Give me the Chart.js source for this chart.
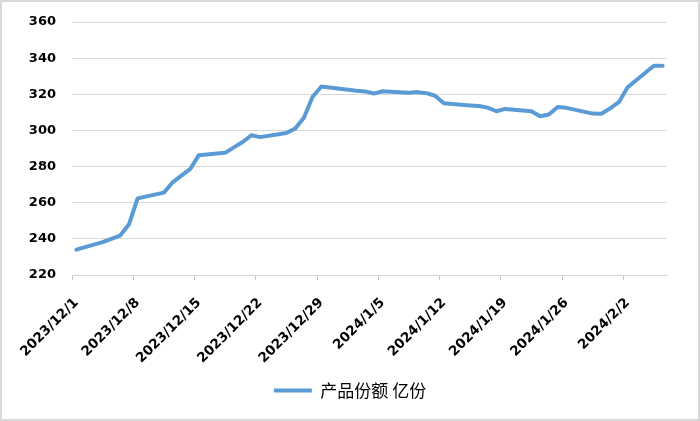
<!DOCTYPE html>
<html>
<head>
<meta charset="utf-8">
<script src="https://cdn.jsdelivr.net/npm/chart.js@4.4.1/dist/chart.umd.min.js"></script>
<style>
  html, body { margin: 0; padding: 0; background: #fff; }
  #wrap { width: 700px; height: 421px; box-sizing: border-box; border: 2px solid #d9d9d9; position: relative; background: #fff; }
  #wrap canvas { display: block; }
</style>
</head>
<body>
<div id="wrap"><canvas id="c"></canvas></div>
<script>
// Calendar days on the date axis (2023/12/1 .. 2024/2/6)
const dates = [
  "2023/12/1","2023/12/2","2023/12/3","2023/12/4","2023/12/5","2023/12/6","2023/12/7",
  "2023/12/8","2023/12/9","2023/12/10","2023/12/11","2023/12/12","2023/12/13","2023/12/14",
  "2023/12/15","2023/12/16","2023/12/17","2023/12/18","2023/12/19","2023/12/20","2023/12/21",
  "2023/12/22","2023/12/23","2023/12/24","2023/12/25","2023/12/26","2023/12/27","2023/12/28",
  "2023/12/29","2023/12/30","2023/12/31","2024/1/1","2024/1/2","2024/1/3","2024/1/4",
  "2024/1/5","2024/1/6","2024/1/7","2024/1/8","2024/1/9","2024/1/10","2024/1/11",
  "2024/1/12","2024/1/13","2024/1/14","2024/1/15","2024/1/16","2024/1/17","2024/1/18",
  "2024/1/19","2024/1/20","2024/1/21","2024/1/22","2024/1/23","2024/1/24","2024/1/25",
  "2024/1/26","2024/1/27","2024/1/28","2024/1/29","2024/1/30","2024/1/31","2024/2/1",
  "2024/2/2","2024/2/3","2024/2/4","2024/2/5","2024/2/6"
];
// 产品份额 (亿份); null = non-trading day
const shares = [
  234.0, null, null, 238.2, 240.0, 241.8, 247.9,
  262.4, null, null, 265.6, 271.3, 275.0, 278.6,
  286.3, null, null, 287.6, 290.6, 293.6, 297.3,
  296.3, null, null, 298.6, 301.0, 307.0, 318.6,
  324.3, null, null, null, 322.0, 321.6, 320.4,
  321.7, null, null, 320.8, 321.2, 320.6, 319.2,
  315.0, null, null, 313.8, 313.5, 312.6, 310.6,
  311.9, null, null, 310.6, 307.8, 308.8, 313.0,
  312.5, null, null, 309.3, 309.2, 312.2, 315.6,
  323.9, null, null, 335.8, 335.8
];
const seriesName = "产品份额 亿份";
const yMin = 220, yMax = 360, yStep = 20;
const labelEvery = 7;

new Chart(document.getElementById('c'), {
  type: 'line',
  data: {
    labels: dates,
    datasets: [{
      label: seriesName,
      data: shares,
      borderColor: '#5B9BD5',
      backgroundColor: '#5B9BD5',
      borderWidth: 4,
      borderCapStyle: 'round',
      borderJoinStyle: 'round',
      pointRadius: 0,
      pointHoverRadius: 0,
      tension: 0,
      spanGaps: true,
      fill: false,
      yAxisID: 'y'
    }]
  },
  options: {
    responsive: true,
    maintainAspectRatio: false,
    animation: false,
    layout: { padding: { top: 20, right: 0, bottom: 10, left: 0 } },
    plugins: {
      tooltip: { enabled: false },
      legend: {
        position: 'bottom',
        labels: {
          usePointStyle: true,
          pointStyle: 'line',
          pointStyleWidth: 38,
          color: '#000',
          font: { family: '"Noto Sans CJK SC", "DejaVu Sans", sans-serif', size: 17 },
          padding: 10
        }
      }
    },
    scales: {
      x: {
        type: 'category',
        offset: true,
        afterFit: (s) => { s.height = 97; },
        grid: {
          offset: true,
          drawOnChartArea: false,
          drawTicks: true,
          tickLength: 5,
          color: (ctx) => (ctx.index % labelEvery === 0 ? '#c8c8c8' : 'rgba(0,0,0,0)')
        },
        border: { display: true, color: '#d9d9d9', width: 1 },
        ticks: {
          autoSkip: false,
          maxRotation: 45,
          minRotation: 45,
          padding: 15,
          color: '#000',
          font: { family: '"DejaVu Sans", sans-serif', size: 13.5, weight: 'bold' },
          callback: function (v, i) { return i % labelEvery === 0 ? dates[i] : ''; }
        }
      },
      y: {
        min: yMin,
        max: yMax,
        afterFit: (s) => { s.width = 70; s.paddingTop = 2; s.paddingBottom = 2; },
        grid: { color: '#d9d9d9', lineWidth: 1, drawTicks: false },
        border: { display: false },
        ticks: {
          stepSize: yStep,
          padding: 16,
          color: '#000',
          font: { family: '"DejaVu Sans", sans-serif', size: 13, weight: 'bold' }
        }
      },
      yRightSpace: {
        position: 'right',
        display: true,
        afterFit: (s) => { s.width = 31; s.paddingTop = 0; s.paddingBottom = 0; },
        grid: { drawOnChartArea: false, drawTicks: false, display: false },
        border: { display: false },
        ticks: { display: false }
      }
    }
  }
});
</script>
</body>
</html>
